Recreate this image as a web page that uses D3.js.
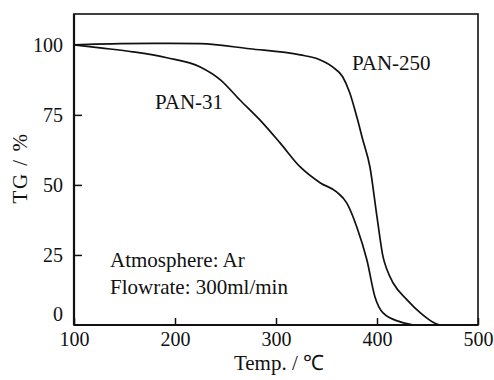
<!DOCTYPE html>
<html><head><meta charset="utf-8">
<script src="https://cdn.jsdelivr.net/npm/d3@7"></script>
</head><body style="margin:0;background:#fff"><svg id="c" width="494" height="380" style="display:block"></svg>
<script>
const xTicks = [100, 200, 300, 400, 500];
const yTicks = [0, 25, 50, 75, 100];
const pan31T = [100, 126, 158, 192, 225, 245, 264, 284, 304, 324, 344, 360, 370, 380, 390, 398, 406, 423, 436];
const pan31V = [100, 98.9, 97.5, 95.4, 92.1, 87.5, 80.4, 73.2, 65, 56.4, 50.7, 47.5, 43.6, 35, 23.2, 10, 4.3, 1.1, 0];
const pan250T = [100, 146, 195, 225, 274, 324, 341, 356, 366, 373, 380, 386, 393, 400, 406, 410, 416, 430, 443, 455, 462];
const pan250V = [100, 100.4, 100.5, 100.4, 98.6, 96.4, 95, 92.1, 88.6, 82.9, 74.3, 66, 56.4, 38.6, 24.3, 19.6, 15, 8.9, 4.3, 1.1, 0];
const seriesLabels = ["PAN-31", "PAN-250"];
const noteLines = ["Atmosphere: Ar", "Flowrate: 300ml/min"];

const FONT = "Liberation Serif";
const svg = d3.select("#c");
const x = d3.scaleLinear().domain([100, 500]).range([74, 478]);
const y = d3.scaleLinear().domain([0, 111]).range([325, 14]);

// frame
svg.append("rect").attr("x", x(100)).attr("y", y(111)).attr("width", x(500) - x(100)).attr("height", y(0) - y(111))
  .attr("fill", "none").attr("stroke", "#111").attr("stroke-width", 1.6);
svg.append("line").attr("x1", x(100)).attr("x2", x(100)).attr("y1", y(111)).attr("y2", y(0)).attr("stroke", "#111").attr("stroke-width", 2.2);
svg.append("line").attr("x1", x(100)).attr("x2", x(500)).attr("y1", y(0)).attr("y2", y(0)).attr("stroke", "#111").attr("stroke-width", 2.2);

// x axis
const xa = svg.append("g").attr("transform", `translate(0,${y(0)})`)
  .call(d3.axisBottom(x).tickValues(xTicks).tickSizeInner(-7).tickSizeOuter(0).tickPadding(7));
xa.select(".domain").remove();
xa.selectAll("line").attr("stroke", "#111").attr("stroke-width", 1.5);
xa.selectAll("text").attr("font-size", 20).attr("fill", "#111");

// y axis
const ya = svg.append("g").attr("transform", `translate(${x(100)},0)`)
  .call(d3.axisLeft(y).tickValues(yTicks).tickSizeInner(-8).tickSizeOuter(0).tickPadding(11));
ya.select(".domain").remove();
ya.selectAll("line").attr("stroke", "#111").attr("stroke-width", 1.5);
ya.selectAll(".tick").filter(d => d === 0 || d === 100).select("line").remove();
ya.selectAll("text").attr("font-size", 20).attr("fill", "#111");
ya.selectAll(".tick").filter(d => d === 0).select("text").attr("dy", "-0.25em");

// curves
const line = d3.line().x(d => x(d[0])).y(d => y(d[1])).curve(d3.curveMonotoneX);
svg.append("path").datum(pan31T.map((t, i) => [t, pan31V[i]])).attr("d", line)
  .attr("fill", "none").attr("stroke", "#111").attr("stroke-width", 1.7);
svg.append("path").datum(pan250T.map((t, i) => [t, pan250V[i]])).attr("d", line)
  .attr("fill", "none").attr("stroke", "#111").attr("stroke-width", 1.7);

// labels
svg.append("text").attr("x", 155).attr("y", 109).attr("font-size", 21).text(seriesLabels[0]);
svg.append("text").attr("x", 352).attr("y", 70).attr("font-size", 21).text(seriesLabels[1]);
svg.append("text").attr("x", 110).attr("y", 267).attr("font-size", 21).text(noteLines[0]);
svg.append("text").attr("x", 110).attr("y", 294).attr("font-size", 21).text(noteLines[1]);

// axis titles
svg.append("text").attr("x", 279).attr("y", 370).attr("text-anchor", "middle").attr("font-size", 21).text("Temp. / \u2103");
svg.append("text").attr("transform", "translate(27,168) rotate(-90)").attr("text-anchor", "middle").attr("font-size", 21).attr("letter-spacing", 1.5).text("TG / %");

svg.selectAll("g").attr("font-family", FONT);
svg.selectAll("text").attr("font-family", FONT).attr("fill", "#111");
</script></body></html>
